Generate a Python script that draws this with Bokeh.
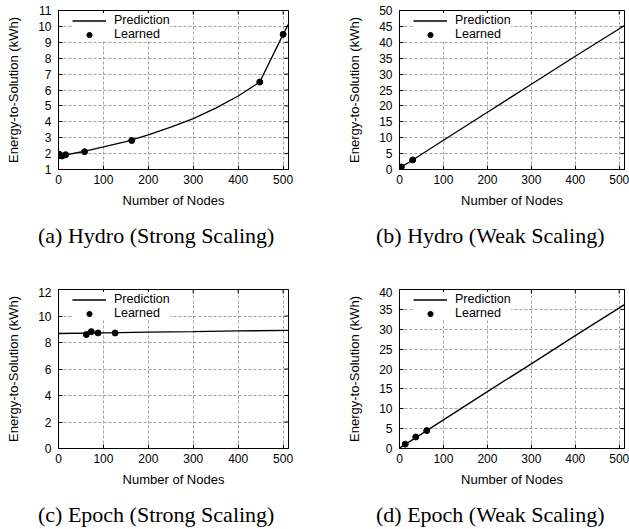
import math
from bokeh.plotting import figure
from bokeh.models import Range1d, FixedTicker, Legend, LegendItem, Div
from bokeh.layouts import column, row
from bokeh.embed import file_html
from bokeh.resources import INLINE

# ---------------- data ----------------
x_ticks = [0, 100, 200, 300, 400, 500]
x_max = 512

# (a) Hydro strong scaling
a_learn_x = [1, 4, 8, 16, 58, 163, 448, 500]
a_learn_y = [1.97, 1.87, 1.85, 1.93, 2.12, 2.82, 6.5, 9.5]
a_pred_x = [0, 16, 50, 100, 150, 200, 250, 300, 350, 400, 448, 500, 512]
a_pred_y = [1.88, 1.92, 2.1, 2.42, 2.76, 3.18, 3.66, 4.2, 4.86, 5.62, 6.5, 9.5, 10.15]
a_yticks = [1, 2, 3, 4, 5, 6, 7, 8, 9, 10, 11]

# (b) Hydro weak scaling
b_learn_x = [4, 30]
b_learn_y = [0.8, 3.0]
b_pred_x = [1, 30, 100, 200, 300, 400, 512]
b_pred_y = [0.5, 3.0, 9.2, 18.0, 26.8, 35.6, 45.3]
b_yticks = [0, 5, 10, 15, 20, 25, 30, 35, 40, 45, 50]

# (c) Epoch strong scaling
c_learn_x = [62, 73, 88, 126]
c_learn_y = [8.6, 8.82, 8.72, 8.72]
c_pred_x = [0, 100, 200, 300, 400, 512]
c_pred_y = [8.68, 8.73, 8.78, 8.82, 8.87, 8.92]
c_yticks = [0, 2, 4, 6, 8, 10, 12]

# (d) Epoch weak scaling
d_learn_x = [13, 37, 62]
d_learn_y = [1.1, 2.9, 4.5]
d_pred_x = [0, 100, 200, 300, 400, 512]
d_pred_y = [0.1, 7.2, 14.3, 21.3, 28.4, 36.2]
d_yticks = [0, 5, 10, 15, 20, 25, 30, 35, 40]

captions_top = ["(a) Hydro (Strong Scaling)", "(b) Hydro (Weak Scaling)"]
captions_bottom = ["(c) Epoch (Strong Scaling)", "(d) Epoch (Weak Scaling)"]

FONT = "Liberation Sans"


def make_fig(px, py, lx, ly, ylo, yhi, yticks, width, mbl, mbr, mbt):
    p = figure(width=width, height=mbt + 160 + 40, x_range=Range1d(0, x_max), y_range=Range1d(ylo, yhi),
               output_backend="svg", toolbar_location=None,
               min_border_left=mbl, min_border_right=mbr, min_border_top=mbt, min_border_bottom=40)
    xt = FixedTicker(ticks=x_ticks)
    yt = FixedTicker(ticks=yticks)
    p.xaxis.ticker = xt
    p.yaxis.ticker = yt
    p.xgrid.ticker = xt
    p.ygrid.ticker = yt
    for g in (p.xgrid, p.ygrid):
        g.grid_line_color = "#a0a0a0"
        g.grid_line_dash = "3 2"
        g.grid_line_width = 1
    for ax in (p.xaxis, p.yaxis):
        ax.major_tick_in = 4
        ax.major_tick_out = 0
        ax.minor_tick_line_color = None
        ax.axis_line_color = "black"
        ax.major_tick_line_color = "black"
        ax.major_label_text_font = FONT
        ax.major_label_text_font_size = "12px"
        ax.major_label_text_color = "black"
        ax.axis_label_text_font = FONT
        ax.axis_label_text_font_size = "13px"
        ax.axis_label_text_font_style = "normal"
        ax.axis_label_text_color = "black"
    p.xaxis.axis_label = "Number of Nodes"
    p.xaxis.major_label_standoff = 5
    p.xaxis.axis_label_standoff = 6
    p.yaxis.axis_label = "Energy-to-Solution (kWh)"
    p.yaxis.major_label_standoff = 7
    p.yaxis.axis_label_standoff = 14
    p.outline_line_color = "black"
    p.outline_line_width = 1
    p.background_fill_color = "white"
    p.border_fill_color = "white"

    # mirrored inward ticks on top and right edges (clipped to the frame)
    p.scatter(x_ticks, [yhi] * len(x_ticks), marker="dash", angle=math.pi / 2, size=8,
              line_color="black", line_width=1)
    p.scatter([x_max] * len(yticks), yticks, marker="dash", size=8,
              line_color="black", line_width=1)

    lr = p.line(px, py, line_color="black", line_width=1.3)
    sr = p.scatter(lx, ly, marker="circle", size=6, fill_color="black", line_color="black")
    leg = Legend(items=[LegendItem(label="Prediction", renderers=[lr]),
                        LegendItem(label="Learned", renderers=[sr])],
                 location=(14, 128), padding=1, margin=0, spacing=0,
                 glyph_width=34, glyph_height=13, label_height=13, label_standoff=8,
                 label_text_font=FONT, label_text_font_size="12.5px", label_text_color="black",
                 background_fill_color="white", background_fill_alpha=1.0,
                 border_line_color=None)
    p.add_layout(leg)
    return p


fa = make_fig(a_pred_x, a_pred_y, a_learn_x, a_learn_y, 1, 11, a_yticks, 344, 58, 56, 10)
fb = make_fig(b_pred_x, b_pred_y, b_learn_x, b_learn_y, 0, 50, b_yticks, 285, 50, 5, 10)
fc = make_fig(c_pred_x, c_pred_y, c_learn_x, c_learn_y, 0, 12, c_yticks, 344, 58, 56, 2)
fd = make_fig(d_pred_x, d_pred_y, d_learn_x, d_learn_y, 0, 40, d_yticks, 285, 50, 5, 2)


def caption(texts, height, pad):
    html = ('<div style="font-family:\'Liberation Serif\',serif;font-size:22px;line-height:22px;'
            'white-space:nowrap;color:#000;padding-top:%dpx">'
            '<span style="display:inline-block;margin-left:38px;width:338px">%s</span>'
            '<span style="display:inline-block">%s</span></div>') % (pad, texts[0], texts[1])
    return Div(text=html, width=629, height=height, margin=(0, 0, 0, 0))


layout = column(row(fa, fb), caption(captions_top, 77, 15),
                row(fc, fd), caption(captions_bottom, 40, 15))

open("out.html", "w").write(file_html(layout, INLINE))
